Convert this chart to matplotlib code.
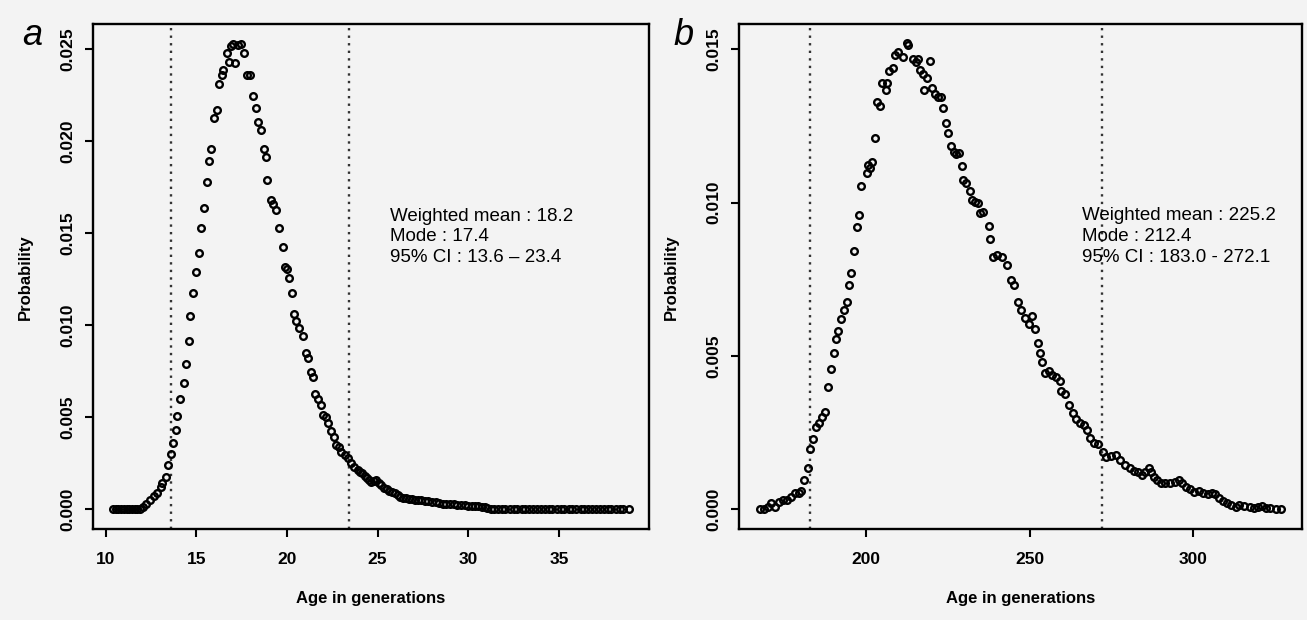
import matplotlib
matplotlib.use("Agg")
import matplotlib.pyplot as plt
from matplotlib.ticker import FormatStrFormatter

# panel a : age distribution
age_a = [10.4, 10.55, 10.7, 10.85, 11.0, 11.15, 11.3, 11.45, 11.6, 11.75, 11.9,
         12.05, 12.25, 12.44, 12.64, 12.84, 13.03, 13.13, 13.33, 13.43, 13.59,
         13.71, 13.86, 13.94, 14.12, 14.30, 14.41, 14.59, 14.65, 14.81, 14.98,
         15.15, 15.26, 15.42, 15.59, 15.70, 15.81, 15.97, 16.14, 16.25, 16.42,
         16.47, 16.69, 16.80, 16.91, 17.02, 17.13, 17.30, 17.46, 17.63, 17.79,
         17.96, 18.12, 18.29, 18.40, 18.57, 18.73, 18.84, 18.90, 19.12, 19.23,
         19.39, 19.56, 19.78, 19.89, 20.00, 20.11, 20.28, 20.39, 20.52, 20.68,
         20.86, 21.05, 21.15, 21.31, 21.43, 21.57, 21.70, 21.86, 22.00, 22.16,
         22.29, 22.43, 22.57, 22.69, 22.85, 22.98, 23.18, 23.38, 23.54, 23.71,
         23.91, 24.05, 24.16, 24.3, 24.42, 24.55, 24.66, 24.78, 24.89, 25.09,
         25.2, 25.35, 25.5, 25.64, 25.8, 25.94, 26.1, 26.23, 26.4, 26.59,
         26.75, 26.92, 27.05, 27.22, 27.4, 27.61, 27.8, 28.0, 28.2, 28.4,
         28.6, 28.79, 29.0, 29.19, 29.4, 29.58, 29.8, 29.98, 30.2, 30.37,
         30.55, 30.76, 30.9, 31.06, 31.25, 31.45, 31.65, 31.85, 32.05, 32.3,
         32.5, 32.7, 32.95, 33.15, 33.35, 33.6, 33.8, 34.0, 34.25, 34.45,
         34.65, 34.9, 35.1, 35.3, 35.55, 35.75, 35.95, 36.2, 36.4, 36.6,
         36.85, 37.05, 37.25, 37.5, 37.7, 37.9, 38.15, 38.35, 38.55, 38.85]
prob_a = [0.0, 0.0, 0.0, 0.0, 0.0, 0.0, 0.0, 0.0, 0.0, 0.0, 0.00002,
          0.0001, 0.0003, 0.0005, 0.0007, 0.0009, 0.00123, 0.00141, 0.00177, 0.00241, 0.00301,
          0.00362, 0.00431, 0.00507, 0.00598, 0.00685, 0.0079, 0.00913, 0.01051, 0.01176, 0.0129,
          0.01394, 0.01529, 0.01638, 0.0178, 0.01894, 0.01958, 0.02127, 0.0217, 0.02312, 0.0236,
          0.02388, 0.0248, 0.02431, 0.02518, 0.02529, 0.02426, 0.02523, 0.02529, 0.0248, 0.0236,
          0.0236, 0.02246, 0.02181, 0.02105, 0.02061, 0.01958, 0.01914, 0.0179, 0.01681, 0.01659,
          0.01627, 0.01529, 0.01425, 0.01317, 0.01306, 0.01257, 0.01176, 0.01062, 0.01025, 0.00984,
          0.00942, 0.00848, 0.0082, 0.00748, 0.00717, 0.00627, 0.00601, 0.00567, 0.00513, 0.00503,
          0.00467, 0.00426, 0.00391, 0.00349, 0.0034, 0.00313, 0.00295, 0.00277, 0.0025, 0.00232,
          0.00214, 0.00205, 0.00196, 0.0018, 0.00168, 0.00158, 0.0015, 0.00155, 0.00159, 0.00141,
          0.0013, 0.00114, 0.00108, 0.00101, 0.00094, 0.00087, 0.00078, 0.00068, 0.00064, 0.0006,
          0.00057, 0.00054, 0.00053, 0.00051, 0.00048, 0.00045, 0.00043, 0.00041, 0.00037, 0.00033,
          0.00031, 0.00029, 0.00029, 0.00029, 0.00026, 0.00023, 0.00021, 0.0002, 0.00019, 0.00018,
          0.00016, 0.00014, 0.0001, 0.00005, 0.00002, 0.0, 0.0, 0.0, 0.0, 0.0,
          0.0, 0.0, 0.0, 0.0, 0.0, 0.0, 0.0, 0.0, 0.0, 0.0,
          0.0, 0.0, 0.0, 0.0, 0.0, 0.0, 0.0, 0.0, 0.0, 0.0,
          0.0, 0.0, 0.0, 0.0, 0.0, 0.0, 0.0, 0.0, 0.0, 0.0]

# panel b
age_b = [167.7, 168.9, 170.05, 171.2, 172.4, 173.6, 174.8, 176.0, 177.2, 178.4,
         179.5, 180.35, 181.3, 182.5, 183.1, 183.9, 184.85, 185.7, 186.6, 187.5,
         188.4, 189.4, 190.2, 191.0, 191.6, 192.45, 193.3, 194.25, 195.0, 195.4,
         196.5, 197.2, 197.95, 198.66, 200.3, 200.6, 201.3, 202.0, 202.85, 203.5,
         204.4, 205.1, 206.2, 206.6, 207.2, 208.25, 208.95, 209.97, 211.5, 212.5,
         212.8, 214.4, 215.2, 215.9, 216.6, 217.4, 217.9, 218.8, 219.65, 220.3,
         221.0, 222.0, 222.9, 223.5, 224.5, 225.15, 226.0, 226.8, 227.6, 228.6,
         229.3, 229.8, 230.65, 231.7, 232.4, 233.4, 234.4, 234.9, 235.9, 237.5,
         237.8, 239.0, 240.2, 241.6, 243.1, 244.3, 245.3, 246.4, 247.4, 248.5,
         249.7, 250.9, 251.7, 252.5, 253.1, 253.7, 254.7, 255.8, 257.0, 258.2,
         259.2, 259.75, 260.95, 262.0, 263.2, 264.1, 265.3, 266.5, 267.7, 268.6,
         269.8, 271.0, 272.4, 273.35, 274.8, 276.55, 277.7, 279.3, 280.7, 281.9,
         283.1, 284.25, 285.4, 286.4, 287.2, 288.0, 289.0, 290.2, 291.35, 292.8,
         294.3, 295.5, 296.7, 297.9, 299.0, 300.2, 301.7, 302.9, 304.4, 305.8,
         306.7, 307.9, 309.1, 310.3, 311.4, 312.9, 314.1, 315.6, 317.2, 318.6,
         319.7, 320.9, 322.1, 323.5, 325.1, 326.8]
prob_b = [0.0, 0.00002, 0.00009, 0.0002, 0.00009, 0.00025, 0.0003, 0.0003, 0.00041, 0.00052,
          0.00052, 0.00061, 0.00096, 0.00134, 0.00196, 0.00228, 0.00269, 0.0028, 0.00302, 0.00318,
          0.00398, 0.00457, 0.00509, 0.00554, 0.00582, 0.0062, 0.0065, 0.00675, 0.00731, 0.00772,
          0.00843, 0.00922, 0.0096, 0.01054, 0.01096, 0.01123, 0.01112, 0.01133, 0.0121, 0.01329,
          0.01315, 0.01389, 0.01367, 0.01389, 0.0143, 0.01438, 0.01481, 0.01492, 0.01474, 0.0152,
          0.01514, 0.01467, 0.0146, 0.01469, 0.01432, 0.01419, 0.01367, 0.01405, 0.01463, 0.01373,
          0.01354, 0.01345, 0.01343, 0.01308, 0.01261, 0.01228, 0.01185, 0.01166, 0.01159, 0.01161,
          0.0112, 0.01074, 0.01065, 0.01039, 0.01009, 0.01003, 0.00998, 0.00965, 0.0097, 0.00924,
          0.0088, 0.00824, 0.00829, 0.00822, 0.00797, 0.00748, 0.00731, 0.00677, 0.0065, 0.00623,
          0.00604, 0.0063, 0.00587, 0.00543, 0.00511, 0.00481, 0.00443, 0.00452, 0.00438, 0.0043,
          0.00419, 0.00387, 0.00376, 0.0034, 0.00313, 0.00293, 0.00282, 0.00275, 0.00259, 0.00232,
          0.00215, 0.00213, 0.00188, 0.00172, 0.00174, 0.00177, 0.00161, 0.00144, 0.00134, 0.00126,
          0.00123, 0.00112, 0.00123, 0.00134, 0.00123, 0.00106, 0.00096, 0.00087, 0.00087, 0.00087,
          0.0009, 0.00096, 0.00087, 0.00072, 0.00065, 0.00057, 0.00061, 0.00054, 0.0005, 0.00054,
          0.00049, 0.00036, 0.00028, 0.00022, 0.00014, 0.00007, 0.00014, 0.00012, 0.00007, 0.00003,
          0.00007, 0.00011, 0.00003, 0.00003, 0.0, 0.0]

ci_a = [13.6, 23.4]
ci_b = [183.0, 272.1]
stats_a = "Weighted mean : 18.2\nMode : 17.4\n95% CI : 13.6 \u2013 23.4"
stats_b = "Weighted mean : 225.2\nMode : 212.4\n95% CI : 183.0 - 272.1"
xticks_a = [10, 15, 20, 25, 30, 35]
yticks_a = [0.0, 0.005, 0.010, 0.015, 0.020, 0.025]
xticks_b = [200, 250, 300]
yticks_b = [0.0, 0.005, 0.010, 0.015]

BG = "#f3f3f3"
plt.rcParams["font.family"] = ["Liberation Sans", "DejaVu Sans"]


def draw_panel(ax, x, y, ci, stats, xticks, yticks, xlim, ylim, text_xy):
    ax.set_facecolor(BG)
    # dotted lines for the 95% CI
    for c in ci:
        ax.axvline(c, color="#333333", linestyle=(0, (1, 2.2)), linewidth=1.7, zorder=1)
    ax.plot(x, y, linestyle="none", marker="o", markersize=4.8, markerfacecolor="none",
            markeredgecolor="black", markeredgewidth=1.7, zorder=2)
    ax.set_xlim(*xlim)
    ax.set_ylim(*ylim)
    ax.set_xticks(xticks)
    ax.set_yticks(yticks)
    ax.yaxis.set_major_formatter(FormatStrFormatter("%.3f"))
    ax.tick_params(axis="both", direction="out", length=5.5, width=1.5, labelsize=12.5)
    ax.tick_params(axis="x", pad=11)
    ax.tick_params(axis="y", pad=7)
    for lab in ax.get_yticklabels():
        lab.set_rotation(90)
        lab.set_va("center")
    for lab in ax.get_xticklabels() + ax.get_yticklabels():
        lab.set_fontweight("bold")
    for s in ax.spines.values():
        s.set_linewidth(1.7)
    ax.set_xlabel("Age in generations", fontsize=12, fontweight="bold")
    ax.set_ylabel("Probability", fontsize=12, fontweight="bold")
    ax.xaxis.set_label_coords(0.5, -0.122)
    ax.yaxis.set_label_coords(-0.107, 0.5)
    ax.text(text_xy[0], text_xy[1], stats, fontsize=13.5, va="top", ha="left",
            linespacing=1.3)


fig = plt.figure(figsize=(13.07, 6.2), dpi=100)
fig.patch.set_facecolor(BG)

ax_a = fig.add_axes([0.0709, 0.1468, 0.4256, 0.8137])
draw_panel(ax_a, age_a, prob_a, ci_a, stats_a, xticks_a, yticks_a,
           (9.28, 39.97), (-0.00107, 0.02635), (25.68, 0.0164))

ax_b = fig.add_axes([0.5654, 0.1468, 0.4308, 0.8137])
draw_panel(ax_b, age_b, prob_b, ci_b, stats_b, xticks_b, yticks_b,
           (161.3, 333.2), (-0.00064, 0.01581), (266.0, 0.00985))

# panel letters
fig.text(0.017, 0.927, "a", fontsize=26, style="italic", va="baseline")
fig.text(0.515, 0.927, "b", fontsize=26, style="italic", va="baseline")

fig.savefig("out.png", dpi=100, facecolor=BG)
